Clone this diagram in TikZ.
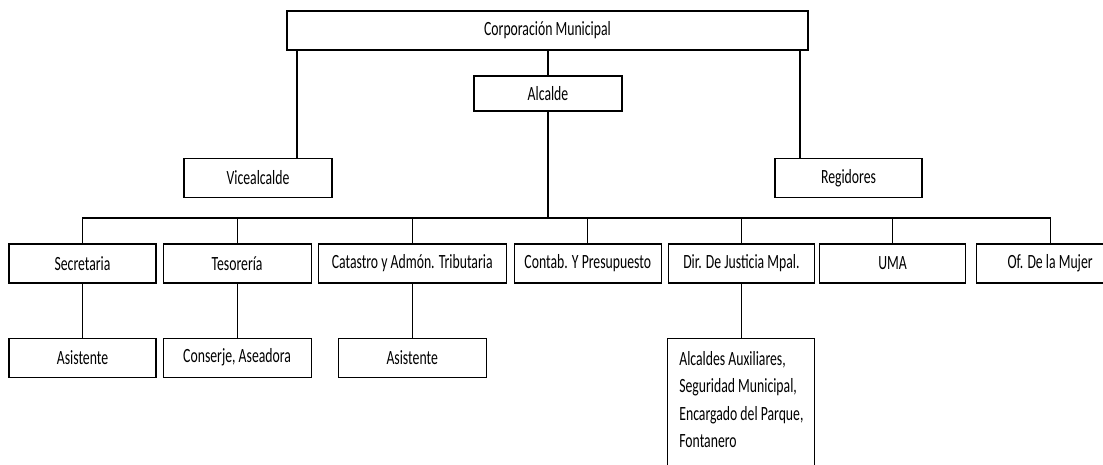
\documentclass[tikz,border=0pt]{standalone}
\usepackage{fontspec}
\setmainfont{Carlito}
\newfontfamily\cargofont{Carlito}[FakeStretch=0.68]
\usetikzlibrary{positioning}

\begin{document}
\begin{tikzpicture}[x=1pt, y=-1pt, line width=1.1pt,
  cargo/.style={draw, minimum height=39pt, minimum width=147pt, inner sep=0pt,
    font=\cargofont\fontsize{20.2}{24}\selectfont}]
\useasboundingbox (0,0) rectangle (1103,465);
\clip (0,0) rectangle (1103,465);

\node (Corp) [cargo, minimum width=521pt] at (547.5,30.5) {Corporación Municipal};
\node (Alc) [cargo, minimum height=35pt, minimum width=148pt] at (548,93.5) {Alcalde};
\node (Vice) [cargo, minimum width=148pt] at (258,178) {Vicealcalde};
\node (Reg) [cargo] at (848.5,178) {Regidores};

% departamentos
\node (Sec) [cargo] at (82.5,263.5) {Secretaria};
\node (Teso) [cargo, minimum width=148pt, right=6pt of Sec] {Tesorería};
\node (Cat) [cargo, minimum width=188pt, right=6pt of Teso] {Catastro y Admón. Tributaria};
\node (Cont) [cargo, right=7pt of Cat] {Contab. Y Presupuesto};
\node (Dir) [cargo, minimum width=146pt, right=6pt of Cont] {Dir. De Justicia Mpal.};
\node (UMA) [cargo, minimum width=146pt, right=4pt of Dir] {UMA};
\node (Muj) [cargo, right=10pt of UMA] {Of. De la Mujer};

% personal
\node (Asis1) [cargo, below=54pt of Sec] {Asistente};
\node (Cons) [cargo, minimum width=148pt, below=54pt of Teso] {Conserje, Aseadora};
\node (Asis2) [cargo, minimum width=148pt, below=54pt of Cat] {Asistente};
\node (Aux) [cargo, inner ysep=13pt, align=left, text depth=110pt,
  font=\cargofont\fontsize{20.2}{27.5}\selectfont, below=54pt of Dir]
  {Alcaldes Auxiliares,\\ Seguridad Municipal,\\ Encargado del Parque,\\ Fontanero};

\coordinate (bus) at (548,218);

\draw (Alc.north) -- (Alc.north |- Corp.south);
\draw ([xshift=39pt]Vice.north) -- ([xshift=39pt]Vice.north |- Corp.south);
\draw ([xshift=-48.5pt]Reg.north) -- ([xshift=-48.5pt]Reg.north |- Corp.south);
\draw (Alc.south) -- (Alc.south |- bus);
\draw (Sec.north) -- (Sec.north |- bus) -- (Muj.north |- bus) -- (Muj.north);
\foreach \n in {Teso,Cat,Cont,Dir,UMA}
  \draw (\n.north) -- (\n.north |- bus);
\foreach \a/\b in {Sec/Asis1, Teso/Cons, Cat/Asis2, Dir/Aux}
  \draw (\a.south) -- (\b.north);

\end{tikzpicture}
\end{document}
